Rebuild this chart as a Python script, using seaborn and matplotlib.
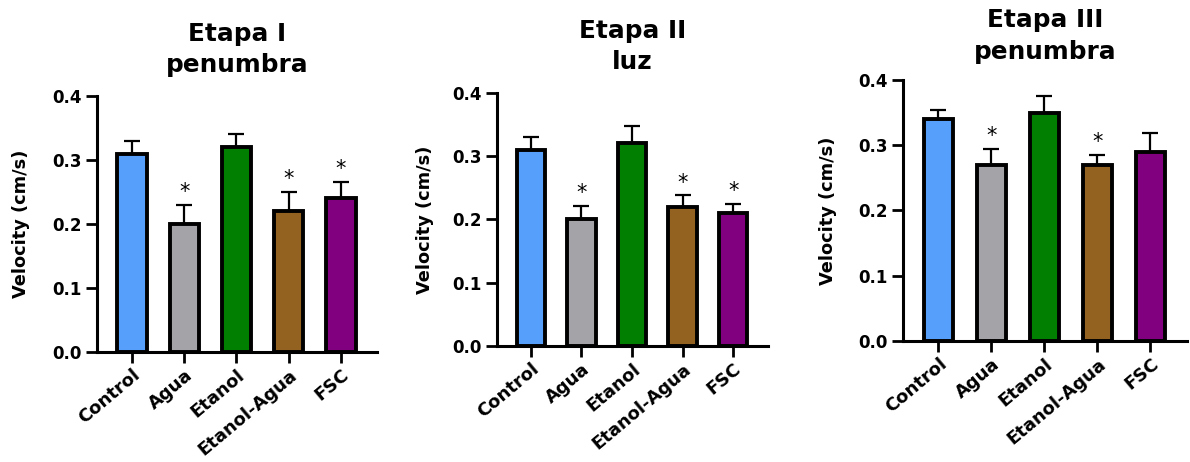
import matplotlib
matplotlib.use("Agg")
import matplotlib.pyplot as plt
import seaborn as sns
import pandas as pd

# ---------------- data ----------------
groups = ["Control", "Agua", "Etanol", "Etanol-Agua", "FSC"]
colors = ["#56A0FC", "#A3A3A8", "#007F00", "#946220", "#800080"]
titles = ["Etapa I\npenumbra", "Etapa II\nluz", "Etapa III\npenumbra"]
ylabel = "Velocity (cm/s)"
yticks = [0.0, 0.1, 0.2, 0.3, 0.4]

mean_1 = [0.31, 0.20, 0.32, 0.22, 0.24]
sem_1 = [0.020, 0.030, 0.020, 0.030, 0.026]
sig_1 = [False, True, False, True, True]

mean_2 = [0.31, 0.20, 0.32, 0.22, 0.21]
sem_2 = [0.021, 0.022, 0.027, 0.018, 0.015]
sig_2 = [False, True, False, True, True]

mean_3 = [0.34, 0.27, 0.35, 0.27, 0.29]
sem_3 = [0.014, 0.024, 0.025, 0.015, 0.028]
sig_3 = [False, True, False, True, False]

# ---------------- style ----------------
sns.set_style("ticks")
plt.rcParams["font.family"] = ["DejaVu Sans"]
plt.rcParams["font.weight"] = "bold"
plt.rcParams["axes.labelweight"] = "bold"
plt.rcParams["axes.titleweight"] = "bold"
plt.rcParams["text.color"] = "black"
plt.rcParams["axes.labelcolor"] = "black"
plt.rcParams["xtick.color"] = "black"
plt.rcParams["ytick.color"] = "black"

fig = plt.figure(figsize=(11.9, 4.62), dpi=100)
rects = [
    [0.0815, 0.238, 0.2353, 0.554],
    [0.4176, 0.251, 0.2278, 0.548],
    [0.7588, 0.262, 0.2387, 0.565],
]
labelpads = [16, 13, 15]
titlepads = [17, 17, 15]
panels = [(mean_1, sem_1, sig_1), (mean_2, sem_2, sig_2), (mean_3, sem_3, sig_3)]

for rect, title, lp, tp, (means, sems, sigs) in zip(rects, titles, labelpads,
                                                    titlepads, panels):
    ax = fig.add_axes(rect)
    df = pd.DataFrame({"group": groups, "value": means})
    sns.barplot(data=df, x="group", y="value", hue="group", order=groups,
                hue_order=groups, palette=colors, legend=False, width=0.56,
                saturation=1, edgecolor="black", linewidth=2.8,
                errorbar=None, ax=ax, zorder=2)
    xs = list(range(len(groups)))
    ax.errorbar(xs, means, yerr=[[0] * len(means), sems], fmt="none",
                ecolor="black", elinewidth=1.6, capsize=6, capthick=1.6,
                zorder=1, clip_on=False)
    for x, m, s, g in zip(xs, means, sems, sigs):
        if g:
            ax.annotate("*", xy=(x, m + s), xytext=(0, 2),
                        textcoords="offset points", ha="center", va="bottom",
                        fontsize=15, fontweight="normal", annotation_clip=False)
    ax.set_xlim(-0.67, 4.69)
    ax.set_ylim(0, 0.4)
    ax.set_yticks(yticks)
    ax.set_yticklabels([f"{t:.1f}" for t in yticks])
    ax.set_xlabel("")
    ax.set_ylabel(ylabel, fontsize=12.8, labelpad=lp)
    ax.set_title(title, fontsize=17.8, pad=tp, linespacing=1.4)
    for lab in ax.get_xticklabels():
        lab.set_rotation(40)
        lab.set_ha("right")
        lab.set_rotation_mode("anchor")
        lab.set_fontsize(13)
    ax.tick_params(axis="both", length=8, width=2, direction="out")
    ax.tick_params(axis="y", labelsize=12, pad=3)
    ax.tick_params(axis="x", pad=2)
    for sp in ["top", "right"]:
        ax.spines[sp].set_visible(False)
    for sp in ["left", "bottom"]:
        ax.spines[sp].set_linewidth(2.2)
        ax.spines[sp].set_color("black")

fig.savefig("out.png", dpi=100)
